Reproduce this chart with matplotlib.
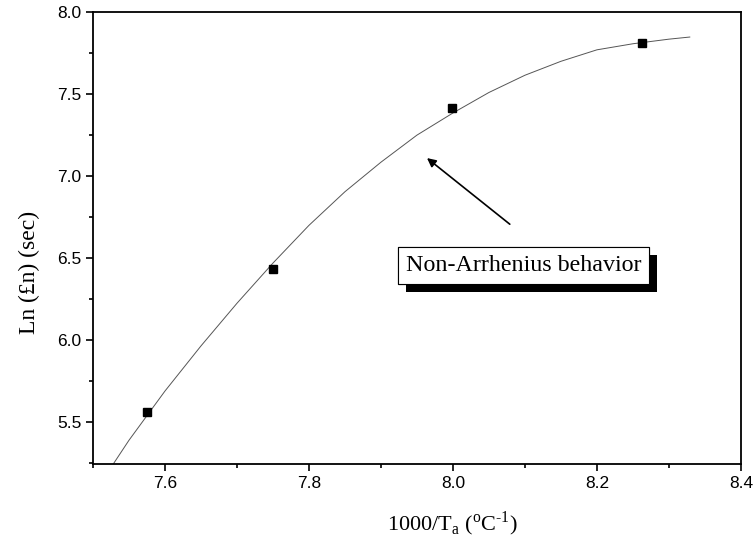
import matplotlib
matplotlib.use("Agg")
import matplotlib.pyplot as plt
import matplotlib.patheffects as pe
from matplotlib.ticker import MultipleLocator

# measured points
x_pts = [7.575, 7.750, 7.999, 8.263]
y_pts = [5.56, 6.435, 7.415, 7.81]

# fitted curve
x_fit = [7.528, 7.55, 7.60, 7.65, 7.70, 7.75, 7.80, 7.85, 7.90, 7.95,
         8.00, 8.05, 8.10, 8.15, 8.20, 8.25, 8.30, 8.329]
y_fit = [5.244, 5.39, 5.69, 5.965, 6.225, 6.47, 6.70, 6.905, 7.085, 7.25,
         7.385, 7.51, 7.615, 7.70, 7.77, 7.807, 7.835, 7.848]

plt.rcParams['mathtext.fontset'] = 'custom'
plt.rcParams['mathtext.rm'] = 'Liberation Serif'

fig = plt.figure(figsize=(7.56, 5.5), dpi=100)
ax = fig.add_axes([0.123, 0.156, 0.857, 0.822])

ax.plot(x_fit, y_fit, color='#555555', lw=0.7)
ax.plot(x_pts, y_pts, 's', color='black', ms=5.5)

ax.set_xlim(7.5, 8.4)
ax.set_ylim(5.244, 8.0)
ax.xaxis.set_minor_locator(MultipleLocator(0.1))
ax.yaxis.set_minor_locator(MultipleLocator(0.25))
ax.set_xticks([7.6, 7.8, 8.0, 8.2, 8.4])
ax.set_yticks([5.5, 6.0, 6.5, 7.0, 7.5, 8.0])
ax.tick_params(which='both', direction='out', top=False, right=False, width=1.2)
ax.tick_params(which='major', length=5, labelsize=12.5)
ax.tick_params(which='minor', length=3)
for lab in ax.get_xticklabels() + ax.get_yticklabels():
    lab.set_family('Liberation Sans')
for sp in ax.spines.values():
    sp.set_linewidth(1.3)

ax.set_xlabel(r'1000/T$_{\rm a}$ ($^{\rm o}$C$^{\text{-1}}$)', family='Liberation Serif',
              fontsize=16)
ax.xaxis.set_label_coords(0.554, -0.1)
ax.set_ylabel('Ln (£n) (sec)', family='Liberation Serif', fontsize=17)
ax.yaxis.set_label_coords(-0.082, 0.425)

ax.annotate('', xy=(7.964, 7.11), xytext=(8.079, 6.707),
            arrowprops=dict(arrowstyle='-|>', color='black', lw=1.2,
                            mutation_scale=13, shrinkA=0, shrinkB=0))

t = ax.text(8.098, 6.457, 'Non-Arrhenius behavior', family='Liberation Serif',
            fontsize=17.3, ha='center', va='center',
            bbox=dict(boxstyle='square,pad=0.33', fc='white', ec='black', lw=0.8))
t.get_bbox_patch().set_path_effects([
    pe.withSimplePatchShadow(offset=(5.8, -5.8), shadow_rgbFace='black', alpha=1.0),
    pe.Normal()])

fig.savefig('out.png', dpi=100)
